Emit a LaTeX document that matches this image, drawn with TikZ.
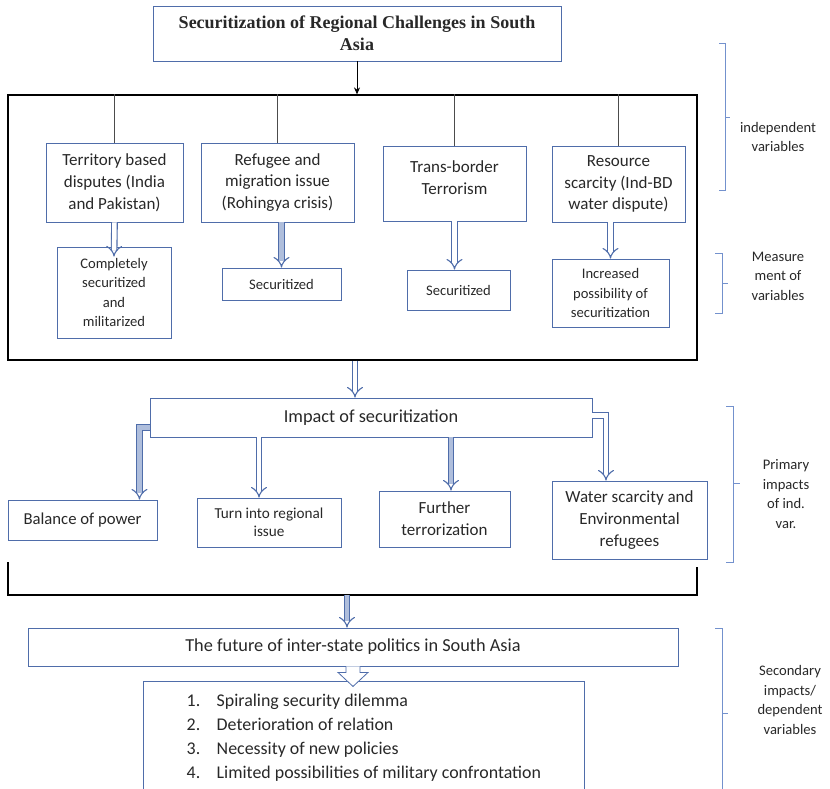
\documentclass[tikz,border=0pt]{standalone}
\usepackage{fontspec}
\setmainfont{Carlito}
\newfontfamily\titlefont{Liberation Serif}
\usetikzlibrary{arrows.meta}
\definecolor{boxblue}{RGB}{79,109,170}
\definecolor{braceblue}{RGB}{115,145,205}
\definecolor{arrowfill}{RGB}{175,190,220}
\definecolor{ink}{RGB}{40,40,40}
\tikzset{
  box/.style={draw=boxblue, line width=0.9pt, align=center, text=ink, inner sep=2pt},
  titletxt/.style={font=\titlefont\bfseries\fontsize{18}{22}\selectfont},
  bigtxt/.style={font=\fontsize{18.3}{22}\selectfont},
  midtxt/.style={font=\fontsize{17}{21.8}\selectfont},
  smalltxt/.style={font=\fontsize{14.6}{19.5}\selectfont},
  listtxt/.style={font=\fontsize{17.9}{24}\selectfont},
  sidetxt/.style={align=center, text=ink, font=\fontsize{14.6}{19.5}\selectfont},
  hollow/.style={draw=boxblue, line width=1.1pt, double=white, double distance=4.5pt, -{Implies}},
  shaded/.style={hollow, double=arrowfill},
  tie/.style={draw=black!70, line width=0.8pt},
  brace/.style={draw=braceblue, line width=0.8pt}
}
\begin{document}
\begin{tikzpicture}[x=1pt, y=-1pt]
\useasboundingbox (0,0) rectangle (830,789);

% title and frame of the independent variables
\node[box, titletxt, minimum width=408, minimum height=55] (title) at (357,33.5) {Securitization of Regional Challenges in South\\Asia};
\node[draw=black, line width=1.2pt, minimum width=689, minimum height=265, inner sep=0pt] (frame) at (352.5,227.5) {};
\draw[line width=0.9pt, -{Stealth[length=7pt, width=6pt]}] (title.south) -- (title.south |- frame.north);

\node[box, midtxt, minimum width=137, minimum height=79] (terr) at (114.5,182.5) {Territory based\\disputes (India\\and Pakistan)};
\node[box, midtxt, minimum width=153, minimum height=79] (refu) at (277.5,182.5) {Refugee and\\migration issue\\(Rohingya crisis)};
\node[box, midtxt, minimum width=143, minimum height=75, text depth=12pt] (trans) at (454.5,183.5) {Trans-border\\Terrorism};
\node[box, midtxt, minimum width=133, minimum height=76] (reso) at (618.5,184) {Resource\\scarcity (Ind-BD\\water dispute)};

\draw[tie] (terr.north |- frame.north) -- (terr.north);
\draw[tie] (refu.north |- frame.north) -- (refu.north);
\draw[tie] (trans.north |- frame.north) -- (trans.north);
\draw[tie] (reso.north |- frame.north) -- (reso.north);

% measurement
\node[box, smalltxt, minimum width=114, minimum height=91] (m1) at (114,292.5) {Completely\\securitized\\and\\militarized};
\node[box, smalltxt, minimum width=119, minimum height=32] (m2) at (281.5,284) {Securitized};
\node[box, smalltxt, minimum width=103, minimum height=40] (m3) at (458.5,290) {Securitized};
\node[box, smalltxt, minimum width=117, minimum height=68] (m4) at (610.5,293) {Increased\\possibility of\\securitization};

\draw[hollow] (terr.south) -- ([yshift=-10pt]m1.north);
\draw[shaded] (m2.north |- refu.south) -- (m2.north);
\draw[hollow] (trans.south) -- (trans.south |- m3.north);
\draw[hollow] (m4.north |- reso.south) -- (m4.north);

% primary impacts
\node[box, bigtxt, minimum width=442, minimum height=39] (impact) at (371,417.5) {Impact of securitization};
\draw[hollow] ([xshift=2.5pt]frame.south) -- ([xshift=2.5pt]frame.south |- impact.north);

\node[box, font=\fontsize{16.7}{21}\selectfont, minimum width=149, minimum height=40] (bal) at (82.5,520) {Balance of power};
\node[box, font=\fontsize{15.2}{18}\selectfont, minimum width=144, minimum height=49] (turn) at (269,522.5) {Turn into regional\\issue};
\node[box, midtxt, minimum width=131, minimum height=56] (further) at (444.5,519) {Further\\terrorization};
\node[box, midtxt, minimum width=155, minimum height=78] (water) at (629.5,520) {Water scarcity and\\Environmental\\refugees};

\draw[shaded] ([yshift=-10pt]impact.west) -| ([xshift=-18pt]bal.north east);
\draw[hollow] ([xshift=-10pt]turn.north |- impact.south) -- ([xshift=-10pt]turn.north);
\draw[shaded] ([xshift=6.5pt]further.north |- impact.south) -- ([xshift=6.5pt]further.north);
\draw[hollow] ([yshift=2pt]impact.east) -| ([xshift=-23.5pt]water.north);

% secondary impacts
\coordinate (bl) at (8,562);
\coordinate (br) at (697,567);
\coordinate (join) at (347,595);
\draw[line width=1.2pt] (bl) |- (br |- join) -- (br);

\node[box, bigtxt, minimum width=650, minimum height=38] (future) at (353,647) {The future of inter-state politics in South Asia};
\draw[shaded] (join) -- (join |- future.north);

\node[box, listtxt, anchor=north west, minimum width=441, minimum height=112, inner xsep=40pt, align=left] (list) at (143,681) {\makebox[30pt][l]{1.}Spiraling security dilemma\\\makebox[30pt][l]{2.}Deterioration of relation\\\makebox[30pt][l]{3.}Necessity of new policies\\\makebox[30pt][l]{4.}Limited possibilities of military confrontation};
\draw[draw=boxblue, line width=0.8pt, fill=white] ([xshift=-7pt]future.south) -- ++(0,6) -- ++(-8,0) -- ++(15,14) -- ++(15,-14) -- ++(-8,0) -- ++(0,-6);

% side labels
\draw[brace] (719,43) -| (725,190) -- (719,190) (725,117) -- (730,117);
\node[sidetxt] (indep) at (778,137) {independent\\variables};
\draw[brace] (715,253) -| (722,313) -- (715,313) (722,283) -- (728,283);
\node[sidetxt] (measure) at (778,276) {Measure\\ment of\\variables};
\draw[brace] (726,406) -| (733,562) -- (726,562) (733,483) -- (740,483);
\node[sidetxt] (primary) at (786,494) {Primary\\impacts\\of ind.\\var.};
\draw[brace] (715,628) -| (722,795) (722,713) -- (728,713);
\node[sidetxt] (second) at (790,700) {Secondary\\impacts/\\dependent\\variables};
\end{tikzpicture}
\end{document}
